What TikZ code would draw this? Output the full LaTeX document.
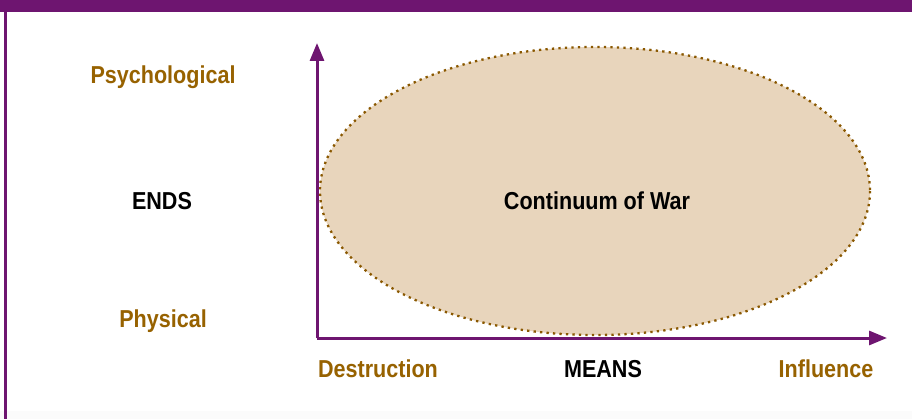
\documentclass[tikz,border=0pt]{standalone}
\usepackage{fontspec}
\setmainfont{Liberation Sans}[FakeStretch=0.88]
\usetikzlibrary{arrows.meta}
\definecolor{warpurple}{HTML}{6E1570}
\definecolor{wargold}{HTML}{976200}
\definecolor{warfill}{HTML}{E8D5BC}
\definecolor{wardot}{HTML}{8A5800}
\tikzset{
  lbl/.style={font=\fontsize{24.5}{26}\selectfont\bfseries, inner sep=0pt, anchor=center},
  goldlbl/.style={lbl, text=wargold},
  blacklbl/.style={lbl, text=black},
  axis/.style={draw=warpurple, line width=3pt, -{Triangle[length=18pt,width=14pt]}},
}
\begin{document}
\begin{tikzpicture}[x=1pt,y=-1pt]
\useasboundingbox (0,0) rectangle (912,419);
\fill[white] (0,0) rectangle (912,419);
\fill[gray!3] (0,411) rectangle (912,419);
\fill[warpurple] (0,0) rectangle (912,12);
\fill[warpurple] (4,12) rectangle (6.5,419);
% ellipse
\fill[warfill] (595,191) ellipse [x radius=275, y radius=144];
\draw[wardot, line width=2.3pt, dash pattern=on 2.3pt off 4.2pt] (595,191) ellipse [x radius=275, y radius=144];
\coordinate (origin) at (317,338);
\coordinate (ytip) at (317,43);
\coordinate (xtip) at (887,338);
\draw[axis] (origin) -- (ytip);
\draw[axis] (origin) -- (xtip);
\node[goldlbl] (psy) at (163,77) {Psychological};
\node[blacklbl] (ends) at (162,201) {ENDS};
\node[goldlbl] (phy) at (163,321) {Physical};
\node[goldlbl] (des) at (378,369) {Destruction};
\node[blacklbl] (means) at (603,369) {MEANS};
\node[goldlbl] (inf) at (826,369) {Influence};
\node[blacklbl] (cont) at (597,201) {Continuum of War};
\end{tikzpicture}
\end{document}
